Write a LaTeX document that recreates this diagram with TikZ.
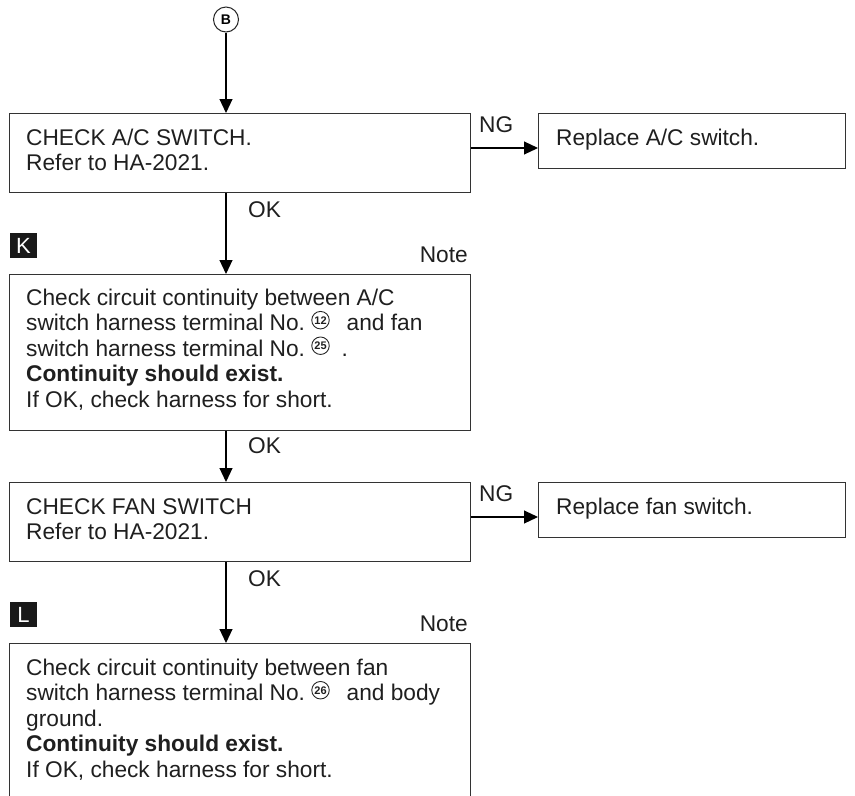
\documentclass[tikz,border=0pt]{standalone}
\usepackage{fontspec}
\setmainfont{Liberation Sans}
\usetikzlibrary{arrows.meta}
\newcommand{\cnum}[1]{\tikz[x=1pt,y=1pt,baseline={(0,-6.5pt)}]\node[circle,draw=black!85,line width=0.9pt,inner sep=0pt,minimum size=17.5pt,font=\bfseries\fontsize{11}{11}\selectfont] (cn) at (0,0) {#1};}
\begin{document}
\begin{tikzpicture}[x=1pt,y=-1pt,
  frame/.style={draw=black!80, line width=1.3pt, rectangle, anchor=north west, inner sep=0pt},
  txt/.style={anchor=base west, inner sep=0pt, text=black!88, font=\fontsize{22.7}{25.5}\selectfont},
  lbl/.style={inner sep=0pt, text=black!88, font=\fontsize{22.7}{25.5}\selectfont},
  conn/.style={draw=black, line width=1.1pt, -{Triangle[length=14pt,width=13pt]}},
  markbox/.style={fill=black!90, text=white, minimum width=27pt, minimum height=25pt, inner sep=0pt, font=\fontsize{22}{22}\selectfont}
]
\useasboundingbox (0,0) rectangle (855,796);
\clip (0,0) rectangle (855,796);

\coordinate (spine) at (226,0);

% connector symbol
\node[circle, draw=black!85, line width=1pt, minimum size=25pt, inner sep=0pt, font=\bfseries\fontsize{14}{14}\selectfont] (B) at (226,19.5) {B};

% box 1
\node[frame, minimum width=461pt, minimum height=79pt] (box1) at (9,113) {};
\node[txt] (t1) at (26,145) {\vtop{\hbox{CHECK A/C SWITCH.}\hbox{Refer to HA-2021.}}};
\node[frame, minimum width=307pt, minimum height=55pt] (rep1) at (538,113) {};
\node[txt] (r1) at (556,145) {Replace A/C switch.};
\node[lbl, anchor=base west] (ng1) at (479,132) {NG};
\node[lbl, anchor=base west] (ok1) at (248,217) {OK};

% K step
\node[markbox] (K) at (23.5,245.5) {K};
\node[lbl, anchor=base east] (note1) at (468,262) {Note};

% box 2
\node[frame, minimum width=461pt, minimum height=156pt] (box2) at (9,274) {};
\node[txt] (t2) at (26,305) {\vtop{\hbox{Check circuit continuity between A/C}\hbox{switch harness terminal No.\ \cnum{12}\hspace{17pt}and fan}\hbox{switch harness terminal No.\ \cnum{25}\hspace{12pt}.}\hbox{\bfseries Continuity should exist.}\hbox{If OK, check harness for short.}}};
\node[lbl, anchor=base west] (ok2) at (248,453) {OK};

% box 3
\node[frame, minimum width=461pt, minimum height=79pt] (box3) at (9,482) {};
\node[txt] (t3) at (26,514) {\vtop{\hbox{CHECK FAN SWITCH}\hbox{Refer to HA-2021.}}};
\node[frame, minimum width=307pt, minimum height=55pt] (rep2) at (538,482) {};
\node[txt] (r2) at (556,514) {Replace fan switch.};
\node[lbl, anchor=base west] (ng2) at (479,501) {NG};
\node[lbl, anchor=base west] (ok3) at (248,586) {OK};

% L step
\node[markbox] (L) at (23.5,614.5) {L};
\node[lbl, anchor=base east] (note2) at (468,631) {Note};

% box 4
\node[frame, minimum width=461pt, minimum height=156pt] (box4) at (9,643) {};
\node[txt] (t4) at (26,675) {\vtop{\hbox{Check circuit continuity between fan}\hbox{switch harness terminal No.\ \cnum{26}\hspace{17pt}and body}\hbox{ground.}\hbox{\bfseries Continuity should exist.}\hbox{If OK, check harness for short.}}};

% connectors
\draw[conn] (B.south) -- (box1.north -| spine);
\draw[conn] (box1.south -| spine) -- (box2.north -| spine);
\draw[conn] (box2.south -| spine) -- (box3.north -| spine);
\draw[conn] (box3.south -| spine) -- (box4.north -| spine);
\draw[conn] ([yshift=-35pt]box1.north east) -- ([yshift=-35pt]rep1.north west);
\draw[conn] ([yshift=-35pt]box3.north east) -- ([yshift=-35pt]rep2.north west);
\end{tikzpicture}
\end{document}
